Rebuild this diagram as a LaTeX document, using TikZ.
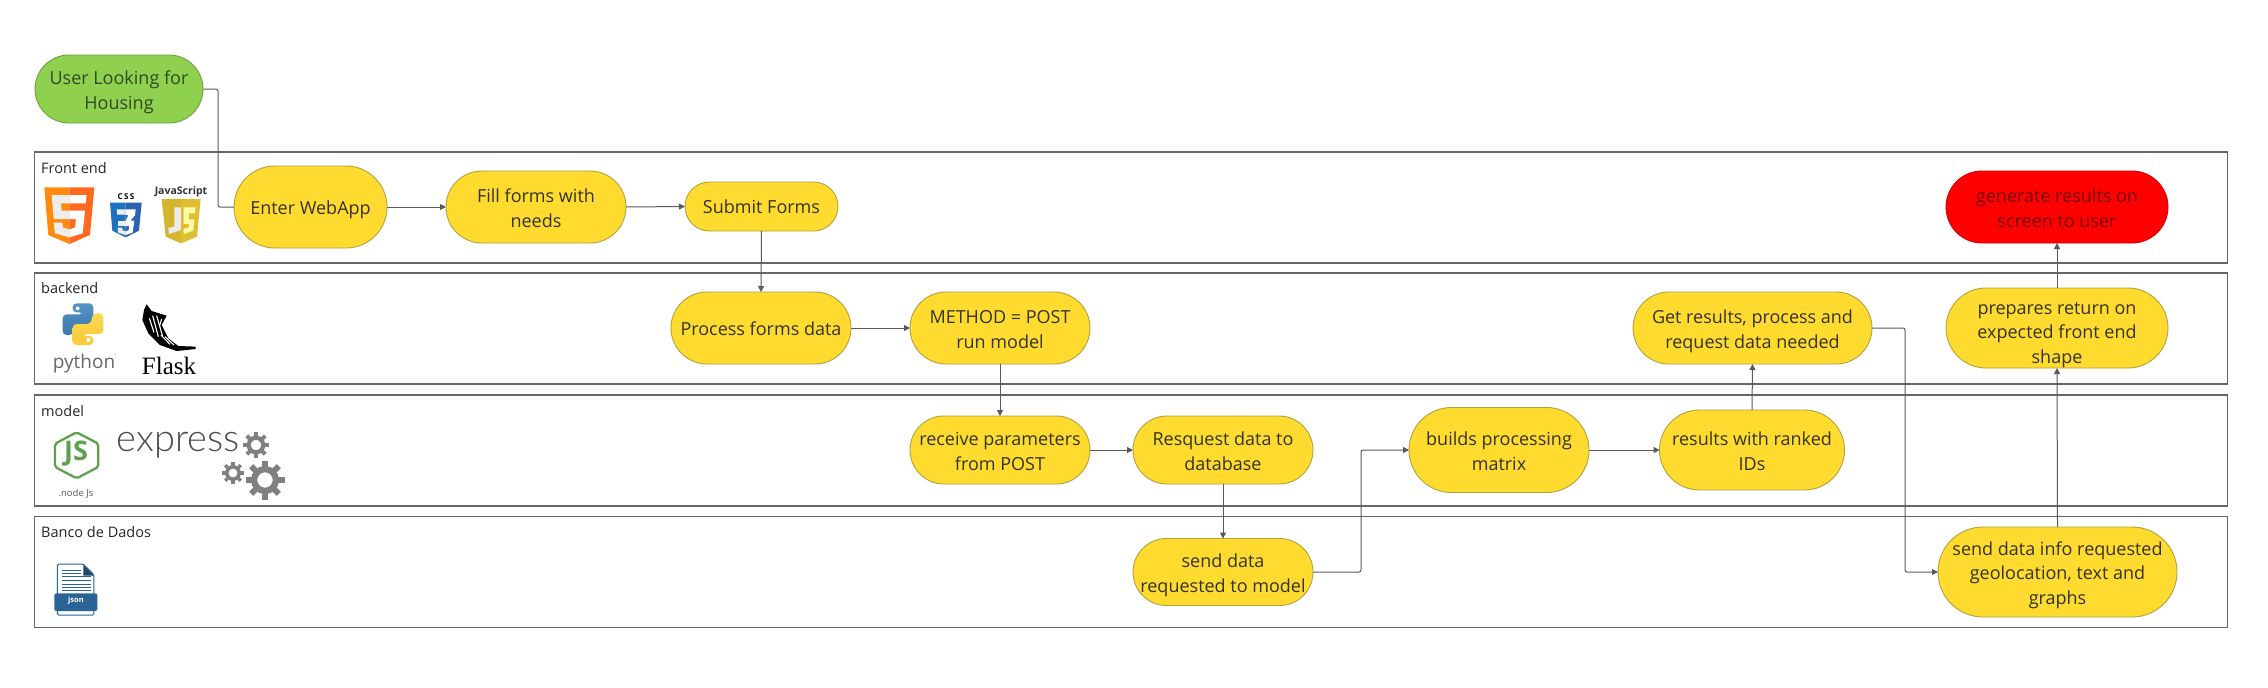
\documentclass[tikz,border=0pt]{standalone}
\usepackage{fontspec}
\setmainfont{Open Sans}
\newfontfamily\serifface{Liberation Serif}
\newfontfamily\labelface{Lato}[UprightFont=* Light]
\usetikzlibrary{shapes.misc,arrows.meta}
\definecolor{pillyellow}{HTML}{FFDB30}
\definecolor{pillyedge}{HTML}{B5A03C}
\definecolor{pillgreen}{HTML}{8FD14F}
\definecolor{pillgedge}{HTML}{6F9E45}
\definecolor{pillred}{HTML}{FF0000}
\definecolor{linegrey}{HTML}{5A5A5A}
\definecolor{bandgrey}{HTML}{666666}
\definecolor{inktext}{HTML}{333326}
\definecolor{greentext}{HTML}{2E4A26}
\definecolor{nodegreen}{HTML}{5FA04E}
\definecolor{jsonblue}{HTML}{2A6496}
\newcommand{\pilltext}[2]{\makebox[0pt]{\raisebox{#1}[0pt][0pt]{\begin{tabular}[t]{@{}c@{}}#2\end{tabular}}}}
\tikzset{
  pill/.style={rounded rectangle,inner sep=0pt,outer sep=0pt,line width=0.9pt,
    font=\fontsize{18}{24.5}\selectfont,text=inktext,fill=pillyellow,draw=pillyedge},
  greenpill/.style={pill,fill=pillgreen,draw=pillgedge,text=greentext},
  redpill/.style={pill,fill=pillred,draw=pillred!85!black,text=red!45!black},
  band/.style={rectangle,draw=bandgrey,line width=1.3pt,inner sep=0pt,minimum width=2193,minimum height=111},
  bandlabel/.style={anchor=west,inner sep=0pt,font=\fontsize{14.5}{17}\selectfont,text=black!85},
  conn/.style={draw=linegrey,line width=1pt,rounded corners=2pt},
  arrowed/.style={conn,-{Triangle[length=6pt,width=6pt]}},
  flat/.style={inner sep=0pt,outer sep=0pt}
}
\newcommand{\gearicon}[3]{%
  \begin{scope}[shift={(#1,#2)}]
    \draw[color=black!50,line width=#3*0.32pt] (0,0) circle ({0.56*#3});
    \foreach \a in {0,45,...,315}
      \draw[color=black!50,line width=#3*0.3pt] (\a:{0.6*#3}) -- (\a:{#3});
  \end{scope}}
\begin{document}
\begin{tikzpicture}[x=1pt,y=-1pt]
\useasboundingbox (0,0) rectangle (2268,688);
\fill[white] (0,0) rectangle (2268,688);

% bands
\node[band] (bfront) at (1131,207.5) {};
\node[band] (bback) at (1131,328.5) {};
\node[band] (bmodel) at (1131,450.5) {};
\node[band] (bdata) at (1131,572) {};
\node[bandlabel] (lfront) at (41,168) {Front end};
\node[bandlabel] (lback) at (41,288) {backend};
\node[bandlabel] (lmodel) at (41,411) {model};
\node[bandlabel] (ldata) at (41,532) {Banco de Dados};

% nodes
\node[greenpill,minimum width=168,minimum height=68] (user) at (119,89) {\pilltext{4.25pt}{User Looking for\\Housing}};
\node[pill,minimum width=153,minimum height=82] (enter) at (310.5,207) {\pilltext{-7pt}{Enter WebApp}};
\node[pill,minimum width=180,minimum height=72] (fill) at (536,207) {\pilltext{4.25pt}{Fill forms with\\needs}};
\node[pill,minimum width=153,minimum height=49] (submit) at (761.5,206.5) {\pilltext{-7pt}{Submit Forms}};
\node[pill,minimum width=180,minimum height=72] (process) at (761,328) {\pilltext{-7pt}{Process forms data}};
\node[pill,minimum width=180,minimum height=72] (method) at (1000,328) {\pilltext{4.25pt}{METHOD = POST\\run model}};
\node[pill,minimum width=180,minimum height=68] (receive) at (1000,450) {\pilltext{4.25pt}{receive parameters\\from POST}};
\node[pill,minimum width=180,minimum height=68] (resq) at (1223,450) {\pilltext{4.25pt}{Resquest data to\\database}};
\node[pill,minimum width=180,minimum height=67] (senddata) at (1223,572) {\pilltext{4.25pt}{send data\\requested to model}};
\node[pill,minimum width=180,minimum height=85] (builds) at (1499,450) {\pilltext{4.25pt}{builds processing\\matrix}};
\node[pill,minimum width=185,minimum height=80] (results) at (1752,450) {\pilltext{4.25pt}{results with ranked\\IDs}};
\node[pill,minimum width=239,minimum height=72] (getres) at (1752.5,328) {\pilltext{4.25pt}{Get results, process and\\request data needed}};
\node[pill,minimum width=239,minimum height=90] (sendinfo) at (2057.5,572) {\pilltext{17pt}{send data info requested\\geolocation, text and\\graphs}};
\node[pill,minimum width=222,minimum height=80] (prepares) at (2057,328) {\pilltext{14pt}{prepares return on\\expected front end\\shape}};
\node[redpill,minimum width=222,minimum height=72] (generate) at (2057,207) {\pilltext{4.25pt}{generate results on\\screen to user}};

% connectors
\coordinate (c1) at (218,89);
\coordinate (c2) at (1361,450);
\coordinate (c3) at (1905,328);
\draw[conn] (user.east) -- (c1) |- (enter.west);
\draw[arrowed] (enter.east) -- (fill.west);
\draw[arrowed] (fill.east) -- (submit.west);
\draw[arrowed] (submit.south) -- (process.north);
\draw[arrowed] (process.east) -- (method.west);
\draw[arrowed] (method.south) -- (receive.north);
\draw[arrowed] (receive.east) -- (resq.west);
\draw[arrowed] (resq.south) -- (senddata.north);
\draw[arrowed] (senddata.east) -| (c2) -- (builds.west);
\draw[arrowed] (builds.east) -- (results.west);
\draw[arrowed] (results.north) -- (getres.south);
\draw[arrowed] (getres.east) -- (c3) |- (sendinfo.west);
\draw[arrowed] (sendinfo.north) -- (prepares.south);
\draw[arrowed] (prepares.north) -- (generate.south);

% HTML5 logo
\definecolor{htmlleft}{HTML}{FF8A0C}
\definecolor{htmlright}{HTML}{FF6A1F}
\begin{scope}[shift={(35,180)},scale=0.33333]
  \fill[color=htmlleft] (28,22) -- (103,22) -- (103,192) -- (40,165) -- cycle;
  \fill[color=htmlright] (103,22) -- (178,22) -- (165,165) -- (103,192) -- cycle;
  \fill[color=black!7] (50,45) -- (103,45) -- (103,70) -- (78,70) -- (80,92) -- (103,92) -- (103,117) -- (56,117) -- cycle;
  \fill[color=black!7] (56,128) -- (82,128) -- (84,143) -- (103,148) -- (103,172) -- (60,160) -- cycle;
  \fill[white] (103,45) -- (155,45) -- (152,70) -- (103,70) -- cycle;
  \fill[white] (103,92) -- (150,92) -- (143,160) -- (103,172) -- (103,148) -- (120,143) -- (123,117) -- (103,117) -- cycle;
\end{scope}
% CSS3 logo
\definecolor{cssleft}{HTML}{1E73BE}
\definecolor{cssright}{HTML}{2B62B3}
\begin{scope}[shift={(35,180)},scale=0.33333]
  \fill[color=cssleft] (225,68) -- (272,68) -- (272,172) -- (232,152) -- cycle;
  \fill[color=cssright] (272,68) -- (320,68) -- (312,152) -- (272,172) -- cycle;
  \fill[color=black!7] (245,88) -- (272,88) -- (272,104) -- (247,104) -- cycle;
  \fill[color=black!7] (250,122) -- (272,122) -- (272,138) -- (250,138) -- cycle;
  \fill[color=black!7] (248,143) -- (262,143) -- (263,151) -- (272,154) -- (272,165) -- (250,158) -- cycle;
  \fill[white] (272,88) -- (302,88) -- (300,106) -- (286,122) -- (298,122) -- (293,158) -- (272,165) -- (272,154) -- (281,151) -- (283,138) -- (272,138) -- (272,122) -- (280,106) -- (272,104) -- cycle;
\end{scope}
% JS logo
\definecolor{jsleft}{HTML}{D4B62E}
\definecolor{jsright}{HTML}{E0BE33}
\begin{scope}[shift={(35,180)},scale=0.33333]
  \fill[color=jsleft] (380,57) -- (438,57) -- (438,190) -- (392,170) -- cycle;
  \fill[color=jsright] (438,57) -- (497,57) -- (486,170) -- (438,190) -- cycle;
  \fill[color=black!8] (418,82) -- (438,82) -- (438,150) -- (402,162) -- (400,144) -- (418,140) -- cycle;
  \fill[color=yellow!35] (446,82) -- (482,82) -- (480,100) -- (462,100) -- (462,118) -- (478,118) -- (475,152) -- (446,162) -- (446,146) -- (462,142) -- (463,132) -- (446,132) -- cycle;
\end{scope}
\node[flat,font=\fontsize{8}{9}\bfseries\selectfont,text=black] (csslabel) at (126,197) {C\,S\,S};
\node[flat,font=\fontsize{10.5}{12}\bfseries\selectfont,text=black!80] (jslabel) at (181,192) {JavaScript};

% Python logo
\definecolor{pyblue}{HTML}{3D78A9}
\definecolor{pyblueup}{HTML}{5393C5}
\definecolor{pyyellow}{HTML}{FFD84F}
\definecolor{pyyellowdn}{HTML}{F7C93C}
\begin{scope}[shift={(50,295)},scale=0.33333]
  \path[rounded corners=4pt,top color=pyblueup,bottom color=pyblue]
    (68,25) -- (130,25) -- (130,88) -- (75,88) -- (70,120) -- (38,120) -- (38,58) -- (100,58) -- (100,52) -- (68,52) -- cycle;
  \path[rounded corners=4pt,top color=pyyellow,bottom color=pyyellowdn]
    (130,150) -- (68,150) -- (68,87) -- (123,87) -- (128,55) -- (160,55) -- (160,117) -- (98,117) -- (98,123) -- (130,123) -- cycle;
  \fill[white] (83,40) circle (6);
  \fill[white] (115,135) circle (6);
\end{scope}
\node[flat,font=\fontsize{19}{22}\selectfont,text=black!60] (pylabel) at (84,364) {python};
\node[flat,font=\fontsize{3}{4}\selectfont,text=black!50] (pytm) at (115,355) {™};

% Flask logo
\begin{scope}[shift={(50,295)},scale=0.33333]
  \fill[black] (290,28) -- (305,48) -- (350,62) -- (335,90) -- (355,130) -- (385,153) -- (437,155) -- (437,162) -- (380,168) -- (330,150) -- (295,115) -- (277,75) -- (282,45) -- cycle;
  \foreach \p/\q in {{(308,62)/(325,125)},{(320,62)/(338,125)},{(298,70)/(312,112)},{(335,72)/(328,95)},{(345,125)/(372,150)},{(333,120)/(360,148)}}
    {\draw[white,line width=1.1pt] \p -- \q;}
\end{scope}
\node[flat,font=\serifface\fontsize{25}{28}\selectfont,text=black] (flasklabel) at (169,366) {Flask};

% Node.js logo
\begin{scope}[shift={(45,425)},scale=0.33333]
  \draw[color=nodegreen,line width=2.3pt,line join=round,rounded corners=2pt]
    (95,22) -- (160,56) -- (160,126) -- (95,160) -- (30,126) -- (30,56) -- cycle;
\end{scope}
\node[flat,font=\fontsize{27}{30}\bfseries\selectfont,text=nodegreen] (jsnode) at (76,454) {JS};
\node[flat,font=\fontsize{9.5}{11}\selectfont,text=black!65] (nodelabel) at (76,494) {.node Js};

% Express and gears
\node[flat,font=\labelface\fontsize{38}{40}\selectfont,text=black!70] (expresslabel) at (178,445) {express};
\gearicon{256}{445}{13}
\gearicon{265}{480}{19.5}
\gearicon{233}{473}{11}

% JSON icon
\begin{scope}[shift={(20,510)},scale=0.33333]
  \draw[color=jsonblue,fill=white,line width=1pt,rounded corners=1.5pt]
    (112,162) -- (190,162) -- (222,195) -- (222,315) -- (112,315) -- cycle;
  \fill[color=jsonblue!70!black] (190,165) -- (222,197) -- (190,197) -- cycle;
  \foreach \yy/\xx in {180/182,190/182,200/212,211/212,222/212,232/212,242/212}
    \draw[color=jsonblue,line width=0.7pt] (125,\yy) -- (\xx,\yy);
  \fill[color=jsonblue,rounded corners=2pt] (103,250) rectangle (232,303);
\end{scope}
\node[flat,font=\fontsize{7.5}{9}\bfseries\selectfont,text=white] (jsonlabel) at (76,601) {json};
\end{tikzpicture}
\end{document}
